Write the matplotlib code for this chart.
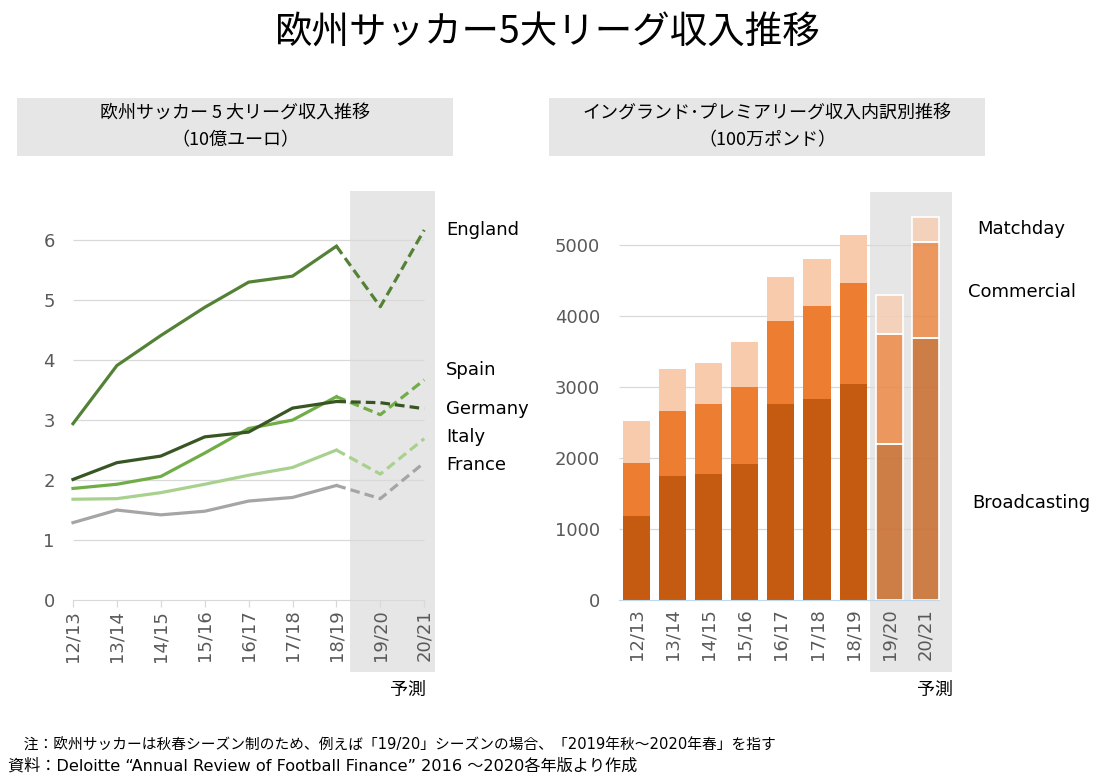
import matplotlib
matplotlib.use("Agg")
import matplotlib.pyplot as plt
from matplotlib.patches import Rectangle
import matplotlib.transforms as mtransforms

plt.rcParams['font.family'] = ['DejaVu Sans', 'Noto Sans CJK JP']
CJK = ['Noto Sans CJK JP', 'DejaVu Sans']

# ---------------- data ----------------
seasons = ["12/13", "13/14", "14/15", "15/16", "16/17", "17/18", "18/19", "19/20", "20/21"]
n_actual = 7  # first 7 seasons are actual, the rest are forecasts

england = [2.94, 3.91, 4.41, 4.88, 5.30, 5.40, 5.90, 4.89, 6.17]
spain   = [1.86, 1.93, 2.06, 2.45, 2.86, 3.00, 3.39, 3.09, 3.67]
germany = [2.01, 2.29, 2.40, 2.72, 2.80, 3.20, 3.31, 3.29, 3.19]
italy   = [1.68, 1.69, 1.79, 1.93, 2.08, 2.21, 2.50, 2.10, 2.69]
france  = [1.29, 1.50, 1.42, 1.48, 1.65, 1.71, 1.91, 1.69, 2.29]

broadcasting = [1184, 1748, 1776, 1917, 2763, 2834, 3045, 2195, 3684]
commercial   = [747, 907, 987, 1086, 1170, 1311, 1424, 1546, 1358]
matchday     = [597, 602, 578, 634, 621, 662, 677, 549, 353]

left_yticks = [0, 1, 2, 3, 4, 5, 6]
right_yticks = [0, 1000, 2000, 3000, 4000, 5000]

# ---------------- figure ----------------
W, H = 1096, 782
fig = plt.figure(figsize=(W / 100, H / 100), dpi=100)
fig.patch.set_facecolor("white")

def ax_rect(left, top, right, bottom):
    return [left / W, 1 - bottom / H, (right - left) / W, (bottom - top) / H]

TICK_C = "#595959"
GRID_C = "#D9D9D9"
SHADE_C = "#E7E6E6"

fig.text(548 / W, 1 - 33 / H, "欧州サッカー5大リーグ収入推移", ha="center", va="center",
         fontsize=27, color="black", family=CJK)

# subtitle boxes
for (l, r, lines) in [(17, 453, ["欧州サッカー 5 大リーグ収入推移", "（10億ユーロ）"]),
                      (549, 985, ["イングランド･プレミアリーグ収入内訳別推移", "（100万ポンド）"])]:
    fig.patches.append(Rectangle((l / W, 1 - 156 / H), (r - l) / W, 58 / H,
                                 transform=fig.transFigure, facecolor=SHADE_C,
                                 edgecolor="none", zorder=0))
    fig.text((l + r) / 2 / W, 1 - 114 / H, lines[0], ha="center", va="center", fontsize=13,
             family=CJK)
    fig.text((l + r) / 2 / W, 1 - 140 / H, lines[1], ha="center", va="center", fontsize=13,
             family=CJK)

# ---------------- left: line chart ----------------
ax1 = fig.add_axes(ax_rect(70.8, 191, 437.4, 600))
x = list(range(len(seasons)))
ax1.set_xlim(-0.05, 8.3)
ax1.set_ylim(0, 6.82)

trans1 = mtransforms.blended_transform_factory(ax1.transData, ax1.transAxes)
ax1.add_patch(Rectangle((6.32, -72 / 409), 8.25 - 6.32, 1 + 72 / 409, transform=trans1,
                        facecolor=SHADE_C, edgecolor="none", clip_on=False, zorder=0))
ax1.hlines(left_yticks[1:], 0, 8, colors=GRID_C, lw=0.9, zorder=1)

series = [
    ("France", france, "#A5A5A5", 2.25),
    ("Italy", italy, "#A9D18E", 2.72),
    ("Spain", spain, "#70AD47", 3.83),
    ("Germany", germany, "#375623", 3.18),
    ("England", england, "#538135", 6.17),
]
for name, vals, col, ly in series:
    ax1.plot(x[:n_actual], vals[:n_actual], color=col, lw=2.3, solid_joinstyle="miter", zorder=3)
    ax1.plot(x[n_actual - 1:], vals[n_actual - 1:], color=col, lw=2.3, dashes=(3, 1.6),
             zorder=3)
    ax1.text(8.5, ly, name, ha="left", va="center", fontsize=13, color="black")

for s in ["top", "right", "left"]:
    ax1.spines[s].set_visible(False)
ax1.spines["bottom"].set_color(GRID_C)
ax1.spines["bottom"].set_bounds(0, 8)
ax1.set_yticks(left_yticks)
ax1.set_yticklabels([str(v) for v in left_yticks])
ax1.set_xticks(x)
ax1.set_xticklabels(seasons, rotation=90)
ax1.tick_params(axis="y", length=0, pad=11.5, labelsize=13, labelcolor=TICK_C)
ax1.tick_params(axis="x", length=5, width=0.9, color=GRID_C, pad=2, labelsize=13,
                labelcolor=TICK_C)
ax1.set_facecolor("none")
fig.text(408 / W, 1 - 690 / H, "予測", ha="center", va="center", fontsize=13, family=CJK)

# ---------------- right: stacked bars ----------------
ax2 = fig.add_axes(ax_rect(618, 192, 952.7, 600))
ax2.set_xlim(-0.5, 8.75)
ax2.set_ylim(0, 408 / 0.071)
trans2 = mtransforms.blended_transform_factory(ax2.transData, ax2.transAxes)
ax2.add_patch(Rectangle((6.46, -72 / 408), 8.73 - 6.46, 1 + 72 / 408, transform=trans2,
                        facecolor=SHADE_C, edgecolor="none", clip_on=False, zorder=0))
ax2.hlines(right_yticks[1:], -0.47, 8.37, colors=GRID_C, lw=0.9, zorder=1)

cols = {"Broadcasting": "#C55A11", "Commercial": "#ED7D31", "Matchday": "#F8CBAD"}
bw = 0.75
for i in x:
    bottom = 0
    for name, vals in [("Broadcasting", broadcasting), ("Commercial", commercial),
                       ("Matchday", matchday)]:
        if i < n_actual:
            ax2.bar(i, vals[i], bw, bottom=bottom, color=cols[name], edgecolor="none",
                    zorder=2)
        else:
            ax2.bar(i, vals[i], bw, bottom=bottom, color=cols[name], alpha=0.75,
                    edgecolor="none", zorder=2)
            ax2.bar(i, vals[i], bw, bottom=bottom, facecolor="none", edgecolor="white",
                    lw=1.2, zorder=3)
        bottom += vals[i]

ax2.text(9.42, 5225, "Matchday", ha="left", va="center", fontsize=13)
ax2.text(9.17, 4338, "Commercial", ha="left", va="center", fontsize=13)
ax2.text(9.28, 1366, "Broadcasting", ha="left", va="center", fontsize=13)

for s in ["top", "right", "left"]:
    ax2.spines[s].set_visible(False)
ax2.spines["bottom"].set_color("#BDD7EE")
ax2.spines["bottom"].set_bounds(-0.47, 8.37)
ax2.spines["bottom"].set_zorder(4)
ax2.set_yticks(right_yticks)
ax2.set_yticklabels([str(v) for v in right_yticks])
ax2.set_xticks(x)
ax2.set_xticklabels(seasons, rotation=90)
ax2.tick_params(axis="y", length=0, pad=13, labelsize=13, labelcolor=TICK_C)
ax2.tick_params(axis="x", length=0, pad=6, labelsize=13, labelcolor=TICK_C)
ax2.set_facecolor("none")
fig.text(935 / W, 1 - 690 / H, "予測", ha="center", va="center", fontsize=13, family=CJK)

# ---------------- footer ----------------
fig.text(9 / W, 1 - 745 / H,
         "　注：欧州サッカーは秋春シーズン制のため、例えば「19/20」シーズンの場合、「2019年秋～2020年春」を指す",
         ha="left", va="center", fontsize=10.6)
fig.text(8 / W, 1 - 766 / H,
         "資料：Deloitte “Annual Review of Football Finance” 2016 ～2020各年版より作成",
         ha="left", va="center", fontsize=11.6)

fig.savefig("out.png", dpi=100)
